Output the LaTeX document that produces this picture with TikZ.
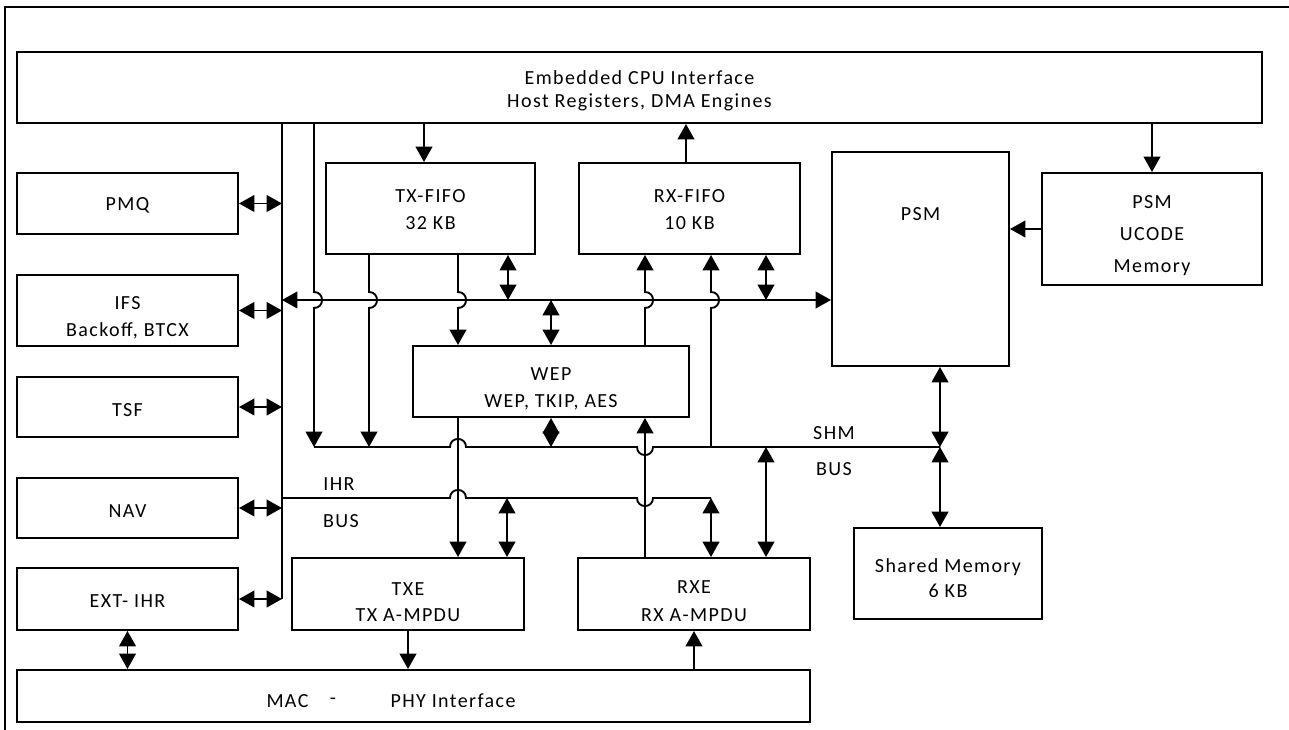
\documentclass[tikz,border=0pt]{standalone}
\usepackage{fontspec}
\setmainfont{Carlito}[LetterSpace=7]
\usetikzlibrary{arrows.meta,calc}
\newcommand\mkblk[5]{\node[blk, minimum width={(#4-#2)*0.75pt}, minimum height={(#5-#3)*0.75pt}] (#1) at ({(#2+#4)/2},{(#3+#5)/2}) {};}
\newcommand\fs[1]{\fontsize{15}{#1}\selectfont}
\begin{document}
\begin{tikzpicture}[x=0.75pt,y=-0.75pt,
  blk/.style={draw, line width=1.5pt, inner sep=0pt},
  txt/.style={inner sep=0pt, align=center},
  con/.style={line width=1.4pt},
  >={Triangle[length=11.5pt,width=12.5pt]}]
\useasboundingbox (0,0) rectangle (1289,730);
\draw[line width=2.2pt] (5,730) -- (5,7) -- (1289,7);
% blocks
\mkblk{cpu}{17}{52}{1262}{123}
\mkblk{pmq}{17}{173}{238}{234}
\mkblk{ifs}{17}{275}{238}{346}
\mkblk{tsf}{17}{377}{238}{437}
\mkblk{nav}{17}{478}{238}{538}
\mkblk{ext}{17}{568}{238}{630}
\mkblk{txfifo}{326}{163}{535}{254}
\mkblk{rxfifo}{579}{163}{800}{254}
\mkblk{psm}{832}{152}{1009}{366}
\mkblk{ucode}{1042}{173}{1262}{285}
\mkblk{wep}{413}{346}{689}{417}
\mkblk{shmem}{854}{528}{1042}{619}
\mkblk{txe}{292}{558}{524}{630}
\mkblk{rxe}{578}{558}{810}{630}
\mkblk{mac}{17}{670}{810}{722}
% texts
\node[txt, font=\fs{17}] (cpuT) at (cpu.center |- 0,91) {Embedded CPU Interface\\Host Registers, DMA Engines};
\node[txt, font=\fs{18}] (pmqT) at (pmq.center |- 0,205) {PMQ};
\node[txt, font=\fs{20.25}] (ifsT) at (ifs.center |- 0,318) {IFS\\Backoff, BTCX};
\node[txt, font=\fs{18}] (tsfT) at (tsf.center |- 0,410) {TSF};
\node[txt, font=\fs{18}] (navT) at (nav.center |- 0,511) {NAV};
\node[txt, font=\fs{18}] (extT) at (ext.center |- 0,601) {EXT- IHR};
\node[txt, font=\fs{20}] (txfifoT) at (txfifo.center |- 0,209.5) {TX-FIFO\\32 KB};
\node[txt, font=\fs{20}] (rxfifoT) at (rxfifo.center |- 0,209.5) {RX-FIFO\\10 KB};
\node[txt, font=\fs{18}] (psmT) at (psm.center |- 0,214) {PSM};
\node[txt, font=\fs{24}] (ucodeT) at (ucode.center |- 0,236) {PSM\\UCODE\\Memory};
\node[txt, font=\fs{20.5}] (wepT) at (wep.center |- 0,389) {WEP\\WEP, TKIP, AES};
\node[txt, font=\fs{19.3}] (shmemT) at (shmem.center |- 0,578) {Shared Memory\\6 KB};
\node[txt, font=\fs{19.9}] (txeT) at (txe.center |- 0,602) {TXE\\TX A-MPDU};
\node[txt, font=\fs{21}] (rxeT) at (rxe.center |- 0,601) {RXE\\RX A-MPDU};
\node[txt, font=\fs{18}] (macA) at (287.5,701) {MAC};
\node[txt, font=\fs{18}] (macB) at (333,701) {-};
\node[txt, font=\fs{18}] (macC) at (453,701) {PHY Interface};
\node[txt, font=\fs{18}] (shmlbl) at (834,433.5) {SHM};
\node[txt, font=\fs{18}] (shmbus) at (834,469.5) {BUS};
\node[txt, font=\fs{18}] (ihrlbl) at (339,484) {IHR};
\node[txt, font=\fs{18}] (ihrbus) at (341,521) {BUS};
% named bus points
\coordinate (lbusB) at (282,599);
\coordinate (shmL) at (314,447);
\coordinate (shmR) at (940,447);
\coordinate (ihrL) at (282,498);
\coordinate (ihrR) at (711,498);
% left vertical bus
\draw[con] (282,0 |- cpu.south) -- (lbusB);
\draw[con,<->] (pmq.east) -- (pmq.east -| lbusB);
\draw[con,<->] (ifs.east) -- (ifs.east -| lbusB);
\draw[con,<->] (tsf.east) -- (tsf.east -| lbusB);
\draw[con,<->] (nav.east) -- (nav.east -| lbusB);
\draw[con,<->] (ext.east) -- (lbusB);
% main bus to PSM
\draw[con,<->] (282,300) -- (psm.west |- 282,300);
% verticals with hops over main bus
\draw[con,->] (314,0 |- cpu.south) -- (314,292) .. controls (324.7,292) and (324.7,308) .. (314,308) -- (shmL);
\draw[con,->] (369,0 |- txfifo.south) -- (369,292) .. controls (379.7,292) and (379.7,308) .. (369,308) -- (369,447);
\draw[con,->] (458,0 |- txfifo.south) -- (458,292) .. controls (468.7,292) and (468.7,308) .. (458,308) -- (458,0 |- wep.north);
\draw[con,->] (645,0 |- wep.north) -- (645,308) .. controls (655.7,308) and (655.7,292) .. (645,292) -- (645,0 |- rxfifo.south);
\draw[con,->] (711,447) -- (711,308) .. controls (721.7,308) and (721.7,292) .. (711,292) -- (711,0 |- rxfifo.south);
\draw[con,<->] (508,0 |- txfifo.south) -- (508,300);
\draw[con,<->] (551,300) -- (551,0 |- wep.north);
\draw[con,<->] (766,0 |- rxfifo.south) -- (766,300);
\draw[con,<->] (551,0 |- wep.south) -- (551,447);
% CPU connections
\draw[con,->] (424,0 |- cpu.south) -- (424,0 |- txfifo.north);
\draw[con,->] (686,0 |- rxfifo.north) -- (686,0 |- cpu.south);
\draw[con,->] (ucode.north |- cpu.south) -- (ucode.north);
\draw[con,->] (ucode.west) -- (psm.east |- ucode.west);
% WEP to TXE, RXE to WEP
\draw[con,->] (458,0 |- wep.south) -- (458,0 |- txe.north);
\draw[con,->] (645,0 |- rxe.north) -- (645,0 |- wep.south);
% SHM bus
\draw[con] (shmL) -- (450,447) .. controls (450,436.3) and (466,436.3) .. (466,447) -- (637,447) .. controls (637,457.7) and (653,457.7) .. (653,447) -- (shmR);
\draw[con,<->] (940,0 |- psm.south) -- (shmR);
\draw[con,<->] (shmR) -- (940,0 |- shmem.north);
\draw[con,<->] (766,447) -- (766,0 |- rxe.north);
% IHR bus
\draw[con] (ihrL) -- (450,498) .. controls (450,487.3) and (466,487.3) .. (466,498) -- (637,498) .. controls (637,508.7) and (653,508.7) .. (653,498) -- (ihrR);
\draw[con,<->] (507,498) -- (507,0 |- txe.north);
\draw[con,<->] (ihrR) -- (711,0 |- rxe.north);
% MAC-PHY
\draw[con,->] (txe.south) -- (txe.south |- mac.north);
\draw[con,->] (rxe.south |- mac.north) -- (rxe.south);
\draw[con,<->] (ext.south) -- (ext.south |- mac.north);
\end{tikzpicture}
\end{document}
